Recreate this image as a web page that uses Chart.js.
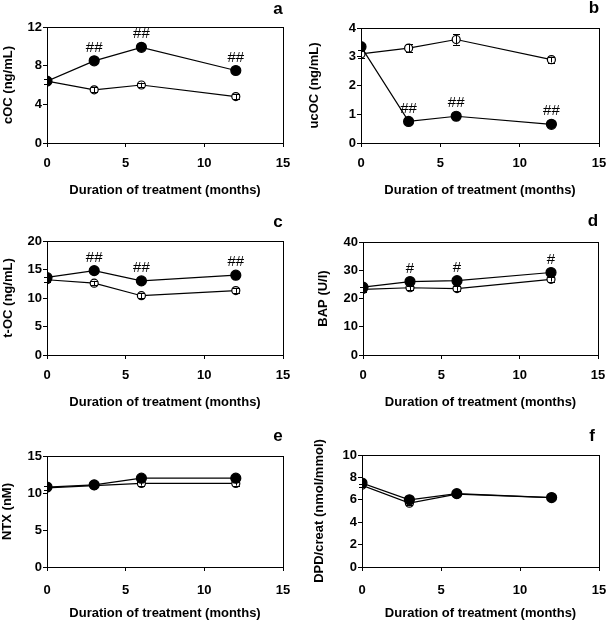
<!DOCTYPE html>
<html>
<head>
<meta charset="utf-8">
<script src="https://cdn.jsdelivr.net/npm/chart.js@4/dist/chart.umd.min.js"></script>
<style>
  html, body { margin: 0; padding: 0; background: #fff; }
  #page { position: relative; width: 606px; height: 623px; }
  .panel { position: absolute; }
</style>
</head>
<body>
<div id="page"></div>
<script>
'use strict';

/* ── Data ────────────────────────────────────────────────── */
const months = [0, 3, 6, 12];
const xTicks = [0, 5, 10, 15];

// a — cOC
const cocTreated    = [6.4, 8.5, 9.9, 7.5];
const cocControl    = [6.4, 5.5, 6.0, 4.8];
const cocControlErr = [0.25, 0.25, 0.25, 0.25];
const cocMarks      = ['', '##', '##', '##'];

// b — ucOC
const ucocTreated    = [3.35, 0.75, 0.93, 0.65];
const ucocControl    = [3.1, 3.3, 3.6, 2.9];
const ucocControlErr = [0.15, 0.15, 0.18, 0.1];
const ucocMarks      = ['', '##', '##', '##'];

// c — t-OC
const tocTreated    = [13.6, 14.8, 13.0, 14.0];
const tocControl    = [13.2, 12.6, 10.4, 11.3];
const tocControlErr = [0.4, 0.4, 0.4, 0.4];
const tocMarks      = ['', '##', '##', '##'];

// d — BAP
const bapTreated    = [24.0, 26.0, 26.3, 29.2];
const bapControl    = [23.2, 23.8, 23.5, 26.8];
const bapControlErr = [0.8, 0.8, 0.8, 0.8];
const bapMarks      = ['', '#', '#', '#'];

// e — NTX
const ntxTreated    = [10.8, 11.1, 12.0, 12.0];
const ntxControl    = [10.7, 11.0, 11.3, 11.3];
const ntxControlErr = [0.3, 0.3, 0.3, 0.3];
const ntxMarks      = ['', '', '', ''];

// f — DPD/creat
const dpdTreated    = [7.5, 6.0, 6.55, 6.2];
const dpdControl    = [7.3, 5.7, 6.5, 6.2];
const dpdControlErr = [0.15, 0.15, 0.15, 0.15];
const dpdMarks      = ['', '', '', ''];

/* ── Panel layout ────────────────────────────────────────── */
const FONT = "'Liberation Sans', Arial, sans-serif";

const panels = [
  { letter: 'a', yTitle: 'cOC (ng/mL)', yMax: 12, yStep: 4,
    treated: cocTreated, control: cocControl, err: cocControlErr, marks: cocMarks,
    box: [0, 0, 303, 207], yW: 47, top: 27, right: 20, xH: 64, yPad: 1, tickPad: 9, xPad: 9, letterAt: [278, 9] },
  { letter: 'b', yTitle: 'ucOC (ng/mL)', yMax: 4, yStep: 1,
    treated: ucocTreated, control: ucocControl, err: ucocControlErr, marks: ucocMarks,
    box: [303, 0, 303, 207], yW: 58, top: 28, right: 7, xH: 64, yPad: 4, tickPad: 9, xPad: 9, letterAt: [291, 8] },
  { letter: 'c', yTitle: 't-OC (ng/mL)', yMax: 20, yStep: 5,
    treated: tocTreated, control: tocControl, err: tocControlErr, marks: tocMarks,
    box: [0, 207, 303, 213], yW: 47, top: 34, right: 20, xH: 65, yPad: 1, tickPad: 9, xPad: 10, letterAt: [278, 15] },
  { letter: 'd', yTitle: 'BAP (U/l)', yMax: 40, yStep: 10,
    treated: bapTreated, control: bapControl, err: bapControlErr, marks: bapMarks,
    box: [303, 207, 303, 213], yW: 60, top: 35, right: 8, xH: 65, yPad: 13, tickPad: 9, xPad: 10, letterAt: [290, 14] },
  { letter: 'e', yTitle: 'NTX (nM)', yMax: 15, yStep: 5,
    treated: ntxTreated, control: ntxControl, err: ntxControlErr, marks: ntxMarks,
    box: [0, 420, 303, 203], yW: 47, top: 36, right: 20, xH: 56, yPad: 0, tickPad: 12, xPad: 2, letterAt: [278, 16] },
  { letter: 'f', yTitle: 'DPD/creat (nmol/mmol)', yMax: 10, yStep: 2,
    treated: dpdTreated, control: dpdControl, err: dpdControlErr, marks: dpdMarks,
    box: [303, 420, 303, 203], yW: 59, top: 35, right: 7, xH: 56, yPad: 9, tickPad: 12, xPad: 2, letterAt: [289, 16] }
];

/* ── Extras: frame, error bars, significance marks, letter ─ */
const extrasPlugin = {
  id: 'extras',
  afterDatasetsDraw(chart, args, opts) {
    const ctx = chart.ctx;
    const xs = chart.scales.x, ys = chart.scales.y;
    ctx.save();
    ctx.strokeStyle = '#000';
    ctx.lineWidth = 1;
    opts.err.forEach(function (e, i) {
      const x = Math.round(xs.getPixelForValue(months[i])) + 0.5;
      const y1 = ys.getPixelForValue(opts.control[i] + e);
      const y2 = ys.getPixelForValue(opts.control[i] - e);
      ctx.beginPath();
      ctx.moveTo(x, y1); ctx.lineTo(x, y2);
      ctx.moveTo(x - 3.5, Math.round(y1) + 0.5); ctx.lineTo(x + 3.5, Math.round(y1) + 0.5);
      ctx.moveTo(x - 3.5, Math.round(y2) + 0.5); ctx.lineTo(x + 3.5, Math.round(y2) + 0.5);
      ctx.stroke();
    });
    // significance marks above treated points
    ctx.fillStyle = '#000';
    ctx.font = '15px ' + FONT;
    ctx.textAlign = 'center';
    ctx.textBaseline = 'middle';
    opts.marks.forEach(function (m, i) {
      if (!m) return;
      const x = xs.getPixelForValue(months[i]);
      const y = ys.getPixelForValue(opts.treated[i]);
      ctx.fillText(m, x, y - 13);
    });
    ctx.restore();
  },
  afterDraw(chart, args, opts) {
    const ctx = chart.ctx;
    const a = chart.chartArea;
    ctx.save();
    ctx.strokeStyle = '#000';
    ctx.lineWidth = 1;
    ctx.strokeRect(Math.round(a.left) + 0.5, Math.round(a.top) + 0.5,
                   Math.round(a.right - a.left), Math.round(a.bottom - a.top));
    ctx.fillStyle = '#000';
    ctx.font = 'bold 17px ' + FONT;
    ctx.textAlign = 'center';
    ctx.textBaseline = 'middle';
    ctx.fillText(opts.letter, opts.letterAt[0], opts.letterAt[1]);
    ctx.restore();
  }
};

const page = document.getElementById('page');

panels.forEach(function (p) {
  const wrap = document.createElement('div');
  wrap.className = 'panel';
  wrap.style.left = p.box[0] + 'px';
  wrap.style.top = p.box[1] + 'px';
  wrap.style.width = p.box[2] + 'px';
  wrap.style.height = p.box[3] + 'px';
  const canvas = document.createElement('canvas');
  wrap.appendChild(canvas);
  page.appendChild(wrap);

  const axisCommon = {
    type: 'linear',
    min: 0,
    grid: { display: true, drawOnChartArea: false, drawTicks: true, tickLength: 4, color: '#000' },
    border: { display: true, color: '#000', width: 1 },
  };

  new Chart(canvas, {
    type: 'line',
    data: {
      datasets: [{
        label: 'Treated',
        data: months.map(function (m, i) { return { x: m, y: p.treated[i] }; }),
        borderColor: '#000',
        borderWidth: 1.2,
        backgroundColor: '#000',
        pointBackgroundColor: '#000',
        pointBorderColor: '#000',
        pointRadius: 5,
        tension: 0
      }, {
        label: 'Control',
        data: months.map(function (m, i) { return { x: m, y: p.control[i] }; }),
        borderColor: '#000',
        borderWidth: 1.2,
        backgroundColor: '#fff',
        pointBackgroundColor: '#fff',
        pointBorderColor: '#000',
        pointBorderWidth: 1.2,
        pointRadius: 4,
        tension: 0
      }]
    },
    options: {
      responsive: true,
      maintainAspectRatio: false,
      animation: false,
      devicePixelRatio: 1,
      layout: { padding: { left: 0, top: p.top, right: p.right, bottom: 0 } },
      plugins: {
        legend: { display: false },
        tooltip: { enabled: false },
        extras: p
      },
      scales: {
        x: {
          ...axisCommon,
          max: 15,
          afterBuildTicks: function (s) { s.ticks = xTicks.map(function (v) { return { value: v }; }); },
          ticks: { color: '#000', padding: p.tickPad, maxRotation: 0, font: { family: FONT, size: 13, weight: 'bold' } },
          title: { display: true, text: 'Duration of treatment (months)', color: '#000',
                   font: { family: FONT, size: 13, weight: 'bold' }, padding: { top: 0, bottom: p.xPad } },
          afterFit: function (s) { s.height = p.xH; s.paddingLeft = 0; s.paddingRight = 0; }
        },
        y: {
          ...axisCommon,
          max: p.yMax,
          ticks: { color: '#000', padding: 1, stepSize: p.yStep, font: { family: FONT, size: 13, weight: 'bold' } },
          title: { display: true, text: p.yTitle, color: '#000',
                   font: { family: FONT, size: 13, weight: 'bold' }, padding: { top: p.yPad, bottom: 0 } },
          afterFit: function (s) { s.width = p.yW; s.paddingTop = 0; s.paddingBottom = 0; }
        }
      }
    },
    plugins: [extrasPlugin]
  });
});
</script>
</body>
</html>
